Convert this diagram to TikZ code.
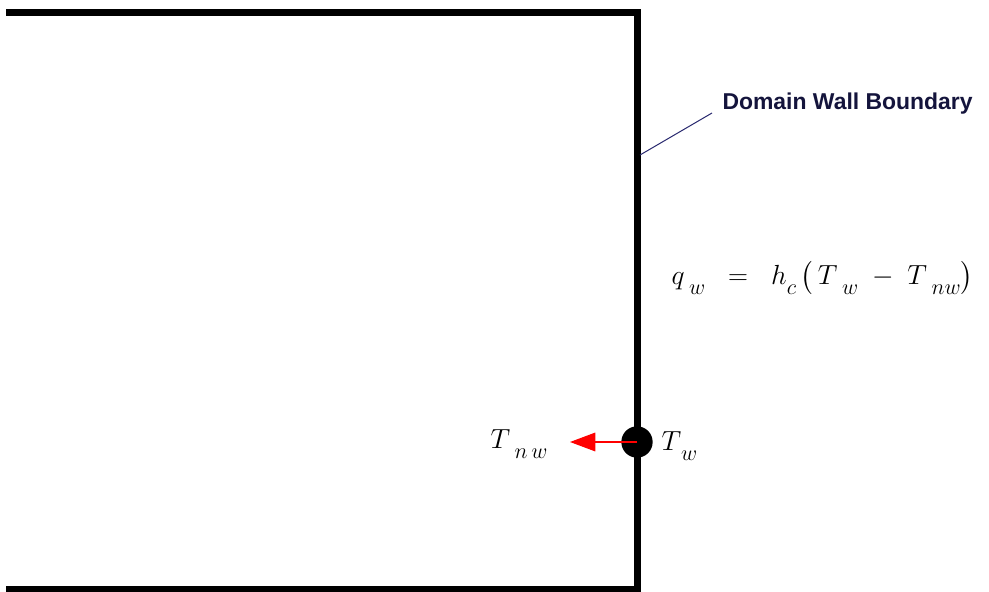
\documentclass[tikz,border=0pt]{standalone}
\usepackage{amsmath}
\usepackage{fontspec}
\newfontfamily\labelfont{Liberation Sans}
\usetikzlibrary{arrows.meta}
\definecolor{navyline}{RGB}{40,40,110}
\definecolor{navytext}{RGB}{20,20,60}
\newcommand{\lowsub}[1]{\raisebox{-0.75ex}{\scalebox{0.8}{$#1$}}}
\tikzset{every picture/.style={line width=0.75pt}}
\tikzset{
  wall/.style={line width=5.25pt, line join=miter},
  mathlabel/.style={inner sep=0.75pt, font=\fontsize{22}{24}\selectfont},
  heatarrow/.style={red, line width=0.9pt, -{Triangle[length=19pt,width=14pt]}}
}

\begin{document}
\begin{tikzpicture}[x=0.75pt,y=0.75pt,yscale=-1,xscale=1]
	\useasboundingbox (0,0) rectangle (989,592);
	
	%Domain boundary
	\draw [wall] (6,13) -- (637,13) -- (637,589) -- (6,589) ;
	
	%Wall point
	\node (tw) [circle, fill=black, inner sep=0pt, minimum size=23.5pt] at (637,442) {} ;
	\coordinate (tip) at (570,442) ;
	%Heat flux arrow
	\draw [heatarrow] (tw.center) -- (tip) ;
	
	%Leader line
	\coordinate (wallpt) at (640,155) ;
	\coordinate (lead) at (712,113) ;
	\draw [navyline, line width=0.75pt] (wallpt) -- (lead) ;
	
	% Text Node
	\node (lbl) [anchor=west, inner sep=0.75pt, text=navytext, font=\labelfont\bfseries\fontsize{17.2}{20}\selectfont] at (721,104) {Domain Wall Boundary} ;
	% Text Node
	\node (tnw) [mathlabel, anchor=west] at (489,444) {$T\,\lowsub{n\,w}$} ;
	% Text Node
	\node (twl) [mathlabel, anchor=west] at (660,446) {$T\lowsub{w}$} ;
	% Text Node
	\node (eq) [mathlabel, anchor=west] at (670,278) {$q\,\lowsub{w}\;\;=\;\;h\lowsub{c}\,\bigl(\,T\,\lowsub{w}\;-\;T\,\lowsub{nw}\bigr)$} ;
	
\end{tikzpicture}
\end{document}
